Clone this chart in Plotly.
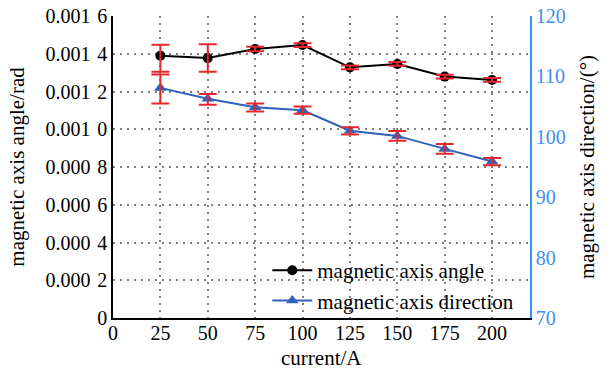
import plotly.graph_objects as go

current = [25, 50, 75, 100, 125, 150, 175, 200]
angle = [0.001390, 0.001377, 0.001425, 0.001446, 0.001328, 0.001346, 0.001279, 0.001261]
angle_err_plus = [0.000058, 0.000073, 0.000012, 0.000010, 0.000010, 0.000010, 0.000010, 0.000010]
angle_err_minus = [0.000085, 0.000073, 0.000012, 0.000010, 0.000010, 0.000010, 0.000010, 0.000010]
direction = [108.1, 106.3, 104.9, 104.4, 101.0, 100.15, 98.0, 95.9]
direction_err_plus = [2.2, 0.8, 0.6, 0.6, 0.6, 0.8, 0.8, 0.6]
direction_err_minus = [2.6, 1.0, 0.7, 0.6, 0.6, 0.8, 0.8, 0.6]

SP = "\u2004"
left_ticks = [0, 0.0002, 0.0004, 0.0006, 0.0008, 0.0010, 0.0012, 0.0014, 0.0016]
left_labels = ["0", "0.000" + SP + "2", "0.000" + SP + "4", "0.000" + SP + "6", "0.000" + SP + "8",
               "0.001" + SP + "0", "0.001" + SP + "2", "0.001" + SP + "4", "0.001" + SP + "6"]
x_ticks = [0, 25, 50, 75, 100, 125, 150, 175, 200]
right_ticks = [70, 80, 90, 100, 110, 120]
x_title = "current/A"

RED = "#e8262b"
BLUE_AX = "#3d8ef0"
BLUE_LINE = "#3060b8"
GRID = "#808080"
FONT = "Times New Roman, Liberation Serif, serif"

fig = go.Figure()
fig.add_trace(go.Scatter(x=current, y=angle, mode="lines+markers", name="magnetic axis angle",
                         line=dict(color="black", width=2), marker=dict(symbol="circle", size=10, color="black")))
fig.add_trace(go.Scatter(x=current, y=direction, mode="lines+markers", name="magnetic axis direction", yaxis="y2",
                         line=dict(color=BLUE_LINE, width=2), marker=dict(symbol="triangle-up", size=11, color=BLUE_LINE)))
fig.add_trace(go.Scatter(x=current, y=angle, mode="markers", showlegend=False, hoverinfo="skip",
                         marker=dict(size=1, color="rgba(0,0,0,0)"),
                         error_y=dict(type="data", array=angle_err_plus, arrayminus=angle_err_minus,
                                      color=RED, thickness=2, width=9)))
fig.add_trace(go.Scatter(x=current, y=direction, mode="markers", showlegend=False, hoverinfo="skip", yaxis="y2",
                         marker=dict(size=1, color="rgba(0,0,0,0)"),
                         error_y=dict(type="data", array=direction_err_plus, arrayminus=direction_err_minus,
                                      color=RED, thickness=2, width=9)))

fig.update_layout(
    width=614, height=369,
    margin=dict(l=113, r=84, t=16, b=51),
    paper_bgcolor="white", plot_bgcolor="white",
    font=dict(family=FONT, size=20, color="black"),
    xaxis=dict(range=[0, 220], tickvals=x_ticks, ticktext=[str(v) for v in x_ticks],
               showline=True, linecolor="black", linewidth=1.5, mirror=False, automargin=False,
               showgrid=True, gridcolor=GRID, griddash="2px,5px", gridwidth=1.5,
               zeroline=False, ticks="", tickfont=dict(size=20), ticklabelstandoff=-4),
    yaxis=dict(range=[0, 0.0016], tickvals=left_ticks, ticktext=left_labels, automargin=False,
               showline=True, linecolor="black", linewidth=1.5,
               showgrid=True, gridcolor=GRID, griddash="2px,5px", gridwidth=1.5,
               zeroline=False, ticks="",
               title=dict(text="magnetic axis angle/rad", font=dict(size=21)), tickfont=dict(size=20)),
    yaxis2=dict(range=[70, 120], tickvals=right_ticks, overlaying="y", side="right", automargin=False,
                showline=True, linecolor=BLUE_AX, linewidth=1.5, showgrid=False, zeroline=False,
                ticks="", tickfont=dict(size=20, color=BLUE_AX),
                title=dict(text="magnetic axis direction/(°)", font=dict(color="black", size=21))),
    legend=dict(x=0.37, y=-0.01, xanchor="left", yanchor="bottom", bgcolor="rgba(255,255,255,0)",
                font=dict(size=21), tracegroupgap=0, itemwidth=40),
    showlegend=True,
    annotations=[dict(text=x_title, xref="paper", yref="paper", x=0.5, y=-0.132,
                      xanchor="center", yanchor="middle", showarrow=False, font=dict(size=21))],
)

fig.write_html("out.html", post_script="document.body.style.margin='0';",
               config={"displayModeBar": False})
